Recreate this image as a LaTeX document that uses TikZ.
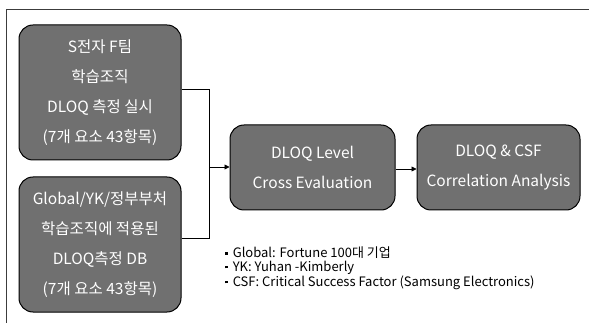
\documentclass[tikz,border=0pt]{standalone}
\usepackage{fontspec}
\setmainfont{Noto Sans CJK KR}
\usetikzlibrary{arrows.meta}
\newcommand{\sqbul}{\raisebox{3.3pt}{\rule{2.6pt}{2.6pt}}\hspace{5pt}}
\begin{document}
\begin{tikzpicture}[x=1pt,y=-1pt,
  box/.style={draw=black,line width=1pt,rounded corners=14pt,fill={rgb,255:red,112;green,112;blue,112},text=white,align=center,font=\fontsize{15.5}{30}\selectfont,inner sep=0pt},
  conn/.style={line width=0.8pt,draw=black},
  arr/.style={conn,-{Triangle[length=5pt,width=5pt]}},
  note/.style={anchor=west,font=\fontsize{13}{15}\selectfont,inner sep=0pt}]
\useasboundingbox (0,0) rectangle (589,323);
\draw[line width=1pt,draw={rgb,255:red,60;green,60;blue,60}] (6,323) -- (6,10) -- (589,10);
\node[box,minimum width=162pt,minimum height=135pt] (a) at (100,92.5) {S전자 F팀\\학습조직\\DLOQ 측정 실시\\(7개 요소 43항목)};
\node[box,minimum width=162pt,minimum height=135pt] (b) at (100,244.5) {Global/YK/정부부처\\학습조직에 적용된\\DLOQ측정 DB\\(7개 요소 43항목)};
\node[box,minimum width=165pt,minimum height=85pt] (c) at (312.5,167.5) {DLOQ Level\\Cross Evaluation};
\node[box,minimum width=163pt,minimum height=85pt] (d) at (498.5,167.5) {DLOQ \& CSF\\Correlation Analysis};
\coordinate (j1) at (209,89);
\coordinate (j2) at (209,238);
\coordinate (jm) at (209,167);
\draw[conn] (b.east |- j2) -- (j2) -- (j1) -- (a.east |- j1);
\draw[arr] (jm) -- (c.west |- jm);
\draw[arr] (c.east |- 0,169) -- (d.west |- 0,169);
\node[note] (n1) at (225,253) {\sqbul Global: Fortune 100대 기업};
\node[note] (n2) at (225,268) {\sqbul YK: Yuhan -Kimberly};
\node[note] (n3) at (225,283) {\sqbul CSF: Critical Success Factor (Samsung Electronics)};
\end{tikzpicture}
\end{document}
